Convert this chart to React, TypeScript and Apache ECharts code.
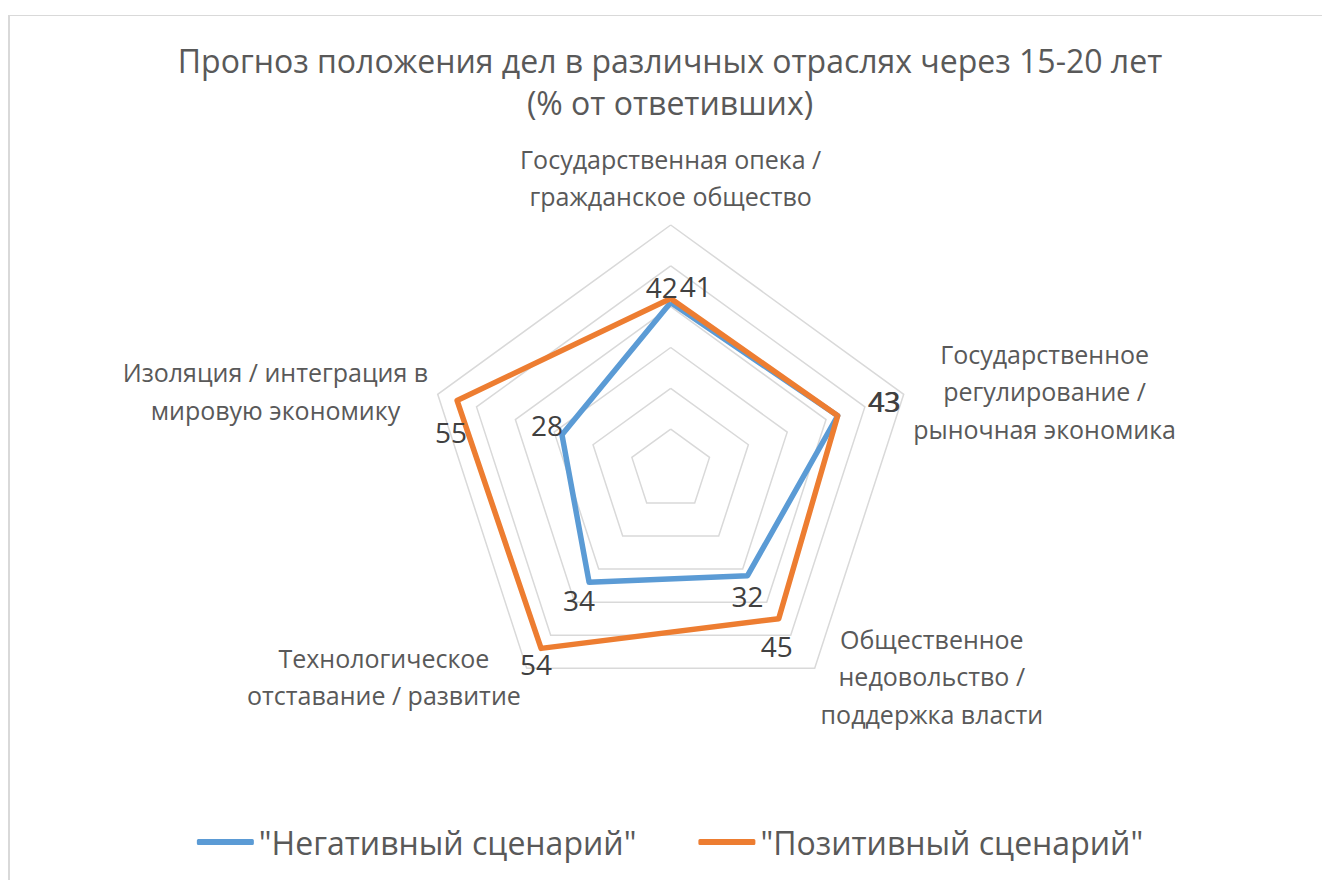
import React, { useEffect, useRef } from "react";
import * as echarts from "echarts";

const titleText = "Прогноз положения дел в различных отраслях через 15-20 лет\n(% от ответивших)";
// Indicators in ECharts order (counter-clockwise from the top)
const indicatorNames = [
  ["Государственная опека /", "гражданское общество"],
  ["Изоляция / интеграция в", "мировую экономику"],
  ["Технологическое", "отставание / развитие"],
  ["Общественное", "недовольство /", "поддержка власти"],
  ["Государственное", "регулирование /", "рыночная экономика"],
];
const seriesNames = ['"Негативный сценарий"', '"Позитивный сценарий"'];
const negativeValues = [41, 28, 34, 32, 43];
const positiveValues = [42, 55, 54, 45, 43];
const axisMax = 60;

const FONT = "'Open Sans', sans-serif";
const TEXT = "#595959";
const BLUE = "#5b9bd5";
const ORANGE = "#ed7d31";

// label offsets (dx, dy) from the vertex, per dimension
const labelShift = [
  [[25, -17], [-15, -10], [-10, 18], [0, 20], [47, -15]],
  [[-9, -12], [-6, 31], [-5, 16], [-2, 27], [46, -15]],
];

export default function App() {
  const ref = useRef<HTMLDivElement>(null);
  useEffect(() => {
    if (!ref.current) return;
    const chart = echarts.init(ref.current, null, { renderer: "svg" });
    const rich: Record<string, any> = {};
    labelShift.forEach((arr, s) =>
      arr.forEach(([dx, dy], d) => {
        rich[`s${s}d${d}`] = {
          fontFamily: FONT,
          fontSize: 28,
          color: "#404040",
          padding: [dy > 0 ? 2 * dy : 0, dx < 0 ? -2 * dx : 0, dy < 0 ? -2 * dy : 0, dx > 0 ? 2 * dx : 0],
        };
      })
    );
    const allValues = [negativeValues, positiveValues];
    chart.setOption({
      animation: false,
      backgroundColor: "#ffffff",
      title: {
        text: titleText,
        left: "center",
        top: 18,
        textStyle: { fontFamily: FONT, fontSize: 32, fontWeight: "normal", color: TEXT, lineHeight: 42 },
      },
      legend: {
        data: seriesNames,
        left: "center",
        top: 805,
        itemWidth: 57,
        itemHeight: 6,
        itemGap: 62,
        icon: "roundRect",
        textStyle: { fontFamily: FONT, fontSize: 32, color: TEXT },
      },
      radar: {
        center: [660.7, 454],
        radius: 245,
        startAngle: 90,
        splitNumber: 6,
        shape: "polygon",
        nameGap: 10,
        indicator: indicatorNames.map((lines) => ({ name: lines.join("\n"), min: 0, max: axisMax })),
        axisName: {
          formatter: (name: string) =>
            name
              .split("\n")
              .map((l) => `{c|${l}}`)
              .join("\n"),
          rich: { c: { align: "center", fontFamily: FONT, fontSize: 25, color: TEXT, lineHeight: 37.5 } },
        },
        axisLine: { show: false },
        axisTick: { show: false },
        axisLabel: { show: false },
        splitLine: { lineStyle: { color: "#d9d9d9", width: 1.5 } },
        splitArea: { show: false },
      },
      series: [
        {
          type: "radar",
          symbol: "circle",
          symbolSize: 1,
          data: [
            {
              name: seriesNames[0],
              value: negativeValues,
              lineStyle: { color: BLUE, width: 5.5 },
              itemStyle: { color: BLUE },
            },
            {
              name: seriesNames[1],
              value: positiveValues,
              lineStyle: { color: ORANGE, width: 5.5 },
              itemStyle: { color: ORANGE },
            },
          ],
          label: {
            show: true,
            position: "inside",
            formatter: (p: any) => {
              const s = p.dataIndex;
              const d = p.dimensionIndex != null ? p.dimensionIndex : allValues[s].indexOf(p.value);
              return `{s${s}d${d}|${p.value}}`;
            },
            rich,
          },
        },
      ],
    });
    return () => chart.dispose();
  }, []);
  return (
    <div
      style={{
        position: "absolute",
        left: 8,
        top: 15,
        width: 1314,
        height: 865,
        overflow: "hidden",
        borderLeft: "2px solid #d9d9d9",
        borderTop: "1px solid #d9d9d9",
        boxSizing: "border-box",
      }}
    >
      <div ref={ref} style={{ width: 1320, height: 864 }} />
    </div>
  );
}
